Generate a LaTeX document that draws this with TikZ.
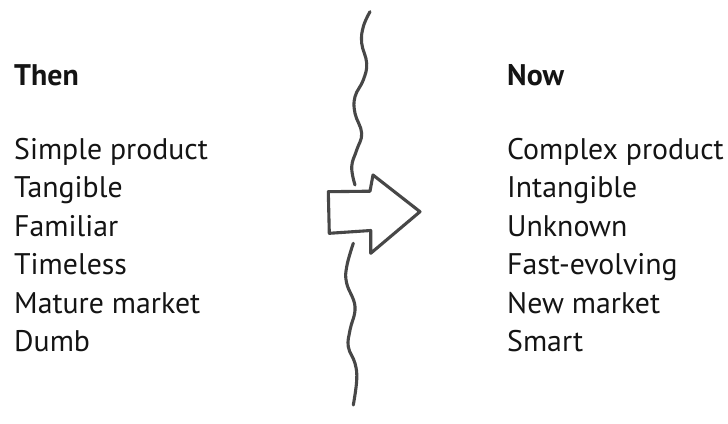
\documentclass[tikz,border=0pt]{standalone}
\usepackage{fontspec}
\setmainfont{PT Sans}
\begin{document}
\begin{tikzpicture}[x=1pt,y=-1pt,
  item/.style={anchor=base west,inner sep=0pt,font=\fontsize{29.8}{34}\selectfont,text=black!92},
  head/.style={item,font=\fontsize{29.8}{34}\selectfont\bfseries},
  brush/.style={draw=black!72,line width=3.1pt,line cap=round,line join=round}]
\useasboundingbox[fill=white] (0,0) rectangle (728,423);

% column headings
\node[head] (then) at (14,85) {Then};
\node[head] (now) at (507,85) {Now};

% the two lists
\foreach \t [count=\i] in {Simple product,Tangible,Familiar,Timeless,Mature market,Dumb}
  \node[item] (old\i) at (14,{159.5+38.4*(\i-1)}) {\t};
\foreach \t [count=\i] in {Complex product,Intangible,Unknown,Fast-evolving,New market,Smart}
  \node[item] (new\i) at (507,{159.5+38.4*(\i-1)}) {\t};

% wavy dividing line, upper and lower part
\draw[brush] plot[smooth,tension=0.7] coordinates {
  (370,11.7) (363.3,26.7) (361.7,43.3) (366.7,63.3) (363.3,80) (355,96.7)
  (355,113.3) (361.7,133.3) (356.7,150) (351.7,166.7) (355,185)};
\draw[brush] plot[smooth,tension=0.7] coordinates {
  (353.3,243.3) (346.7,266.7) (346.7,283.3) (355,306.7) (350,330)
  (348.3,346.7) (355,363.3) (356.7,380) (353.3,405)};

% block arrow across the line
\draw[brush,fill=white] (328.3,191.7) -- (370,191.2) -- (373,175) -- (420,211.7)
  -- (370.7,253.3) -- (370.7,230.5) -- (329.3,233.3) -- cycle;
\end{tikzpicture}
\end{document}
